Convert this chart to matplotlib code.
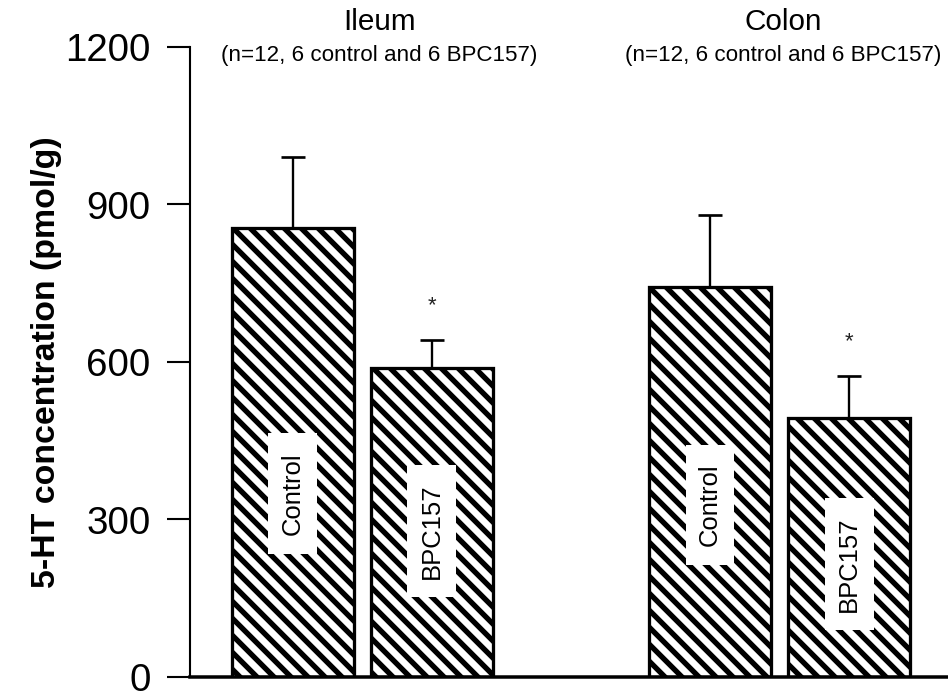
import numpy as np
import matplotlib.pyplot as plt
from matplotlib.collections import LineCollection
from matplotlib.patches import Rectangle
from matplotlib.transforms import IdentityTransform, blended_transform_factory

# Data
regions = ['Ileum', 'Colon']
subtitles = ['(n=12, 6 control and 6 BPC157)', '(n=12, 6 control and 6 BPC157)']
control_mean = [855, 743]
control_err = [135, 136]
bpc_mean = [588, 493]
bpc_err = [54, 80]
significant = [True, True]
y_ticks = [0, 300, 600, 900, 1200]

plt.rcParams['font.family'] = ['Liberation Sans', 'DejaVu Sans']

fig = plt.figure(figsize=(948.4 / 84, 692.4 / 84), dpi=84)
ax = fig.add_axes([0.2004, 0.0217, 0.7996, 0.9104])
ax.set_xlim(0, 6.213)
ax.set_ylim(0, 1200)

group_x = [1.41, 4.83]
offset = 0.57
width = 1.0
ctrl_x = [g - offset for g in group_x]
bpc_x = [g + offset for g in group_x]

bars = list(ax.bar(ctrl_x, control_mean, width=width, color='white',
                   edgecolor='none', zorder=1.5))
bars += list(ax.bar(bpc_x, bpc_mean, width=width, color='white',
                    edgecolor='none', zorder=1.5))

# diagonal hatching, drawn in pixels so the stripe spacing matches
period = 17.0
for b in bars:
    (px0, py0), (px1, py1) = ax.transData.transform(
        [[b.get_x(), 0], [b.get_x() + b.get_width(), b.get_height()]])
    segs = []
    for c in np.arange(np.floor((px0 + py0) / period) * period, px1 + py1 + period, period):
        segs.append([(c - py1 - 5, py1 + 5), (c - py0 + 5, py0 - 5)])
    lc = LineCollection(segs, colors='black', linewidths=4.6,
                        transform=IdentityTransform(), zorder=1.8, capstyle='butt')
    ax.add_collection(lc)
    lc.set_clip_path(b)

ax.bar(ctrl_x, control_mean, width=width, fill=False, edgecolor='black',
       linewidth=2.8, zorder=2)
ax.bar(bpc_x, bpc_mean, width=width, fill=False, edgecolor='black',
       linewidth=2.8, zorder=2)

err_kw = dict(fmt='none', ecolor='black', elinewidth=2.0, capsize=10.7,
              capthick=2.3, zorder=3)
ax.errorbar(ctrl_x, control_mean, yerr=[[0, 0], control_err], **err_kw)
ax.errorbar(bpc_x, bpc_mean, yerr=[[0, 0], bpc_err], **err_kw)

# labels inside the bars, on white boxes
box_w = 0.40
ctrl_label_y = [349, 328]
bpc_label_y = [278, 215]
for i in range(len(regions)):
    for x, y, txt, h in [(ctrl_x[i], ctrl_label_y[i], 'Control', 229),
                         (bpc_x[i], bpc_label_y[i], 'BPC157', 251)]:
        ax.add_patch(Rectangle((x - box_w / 2, y - h / 2), box_w, h,
                               facecolor='white', edgecolor='none', zorder=3))
        ax.text(x, y, txt, rotation=90, ha='center', va='center',
                fontsize=22, zorder=4)
    if significant[i]:
        ax.text(bpc_x[i], bpc_mean[i] + bpc_err[i] + 55, '*', ha='center',
                va='baseline', fontsize=19, color='#222222')

# group titles above the plot
trans = blended_transform_factory(ax.transData, ax.transAxes)
title_x = [1.55, 4.86]
for i, name in enumerate(regions):
    ax.text(title_x[i], 1.040, name, transform=trans, ha='center', va='center',
            fontsize=25.5, clip_on=False)
    ax.text(title_x[i], 0.987, subtitles[i], transform=trans, ha='center',
            va='center', fontsize=19.2, clip_on=False)

ax.set_yticks(y_ticks)
ax.set_xticks([])
ax.tick_params(axis='y', direction='out', length=19.7, width=1.8, pad=14,
               labelsize=33)
ax.spines['top'].set_visible(False)
ax.spines['right'].set_visible(False)
ax.spines['left'].set_linewidth(1.8)
ax.spines['bottom'].set_linewidth(3.0)

ax.set_ylabel('5-HT concentration (pmol/g)', fontsize=29, fontweight='bold')
ax.yaxis.label.set_verticalalignment('center')
ax.yaxis.set_label_coords(-0.1887, 0.5)

fig.savefig('out.png', dpi=84, facecolor='white')
